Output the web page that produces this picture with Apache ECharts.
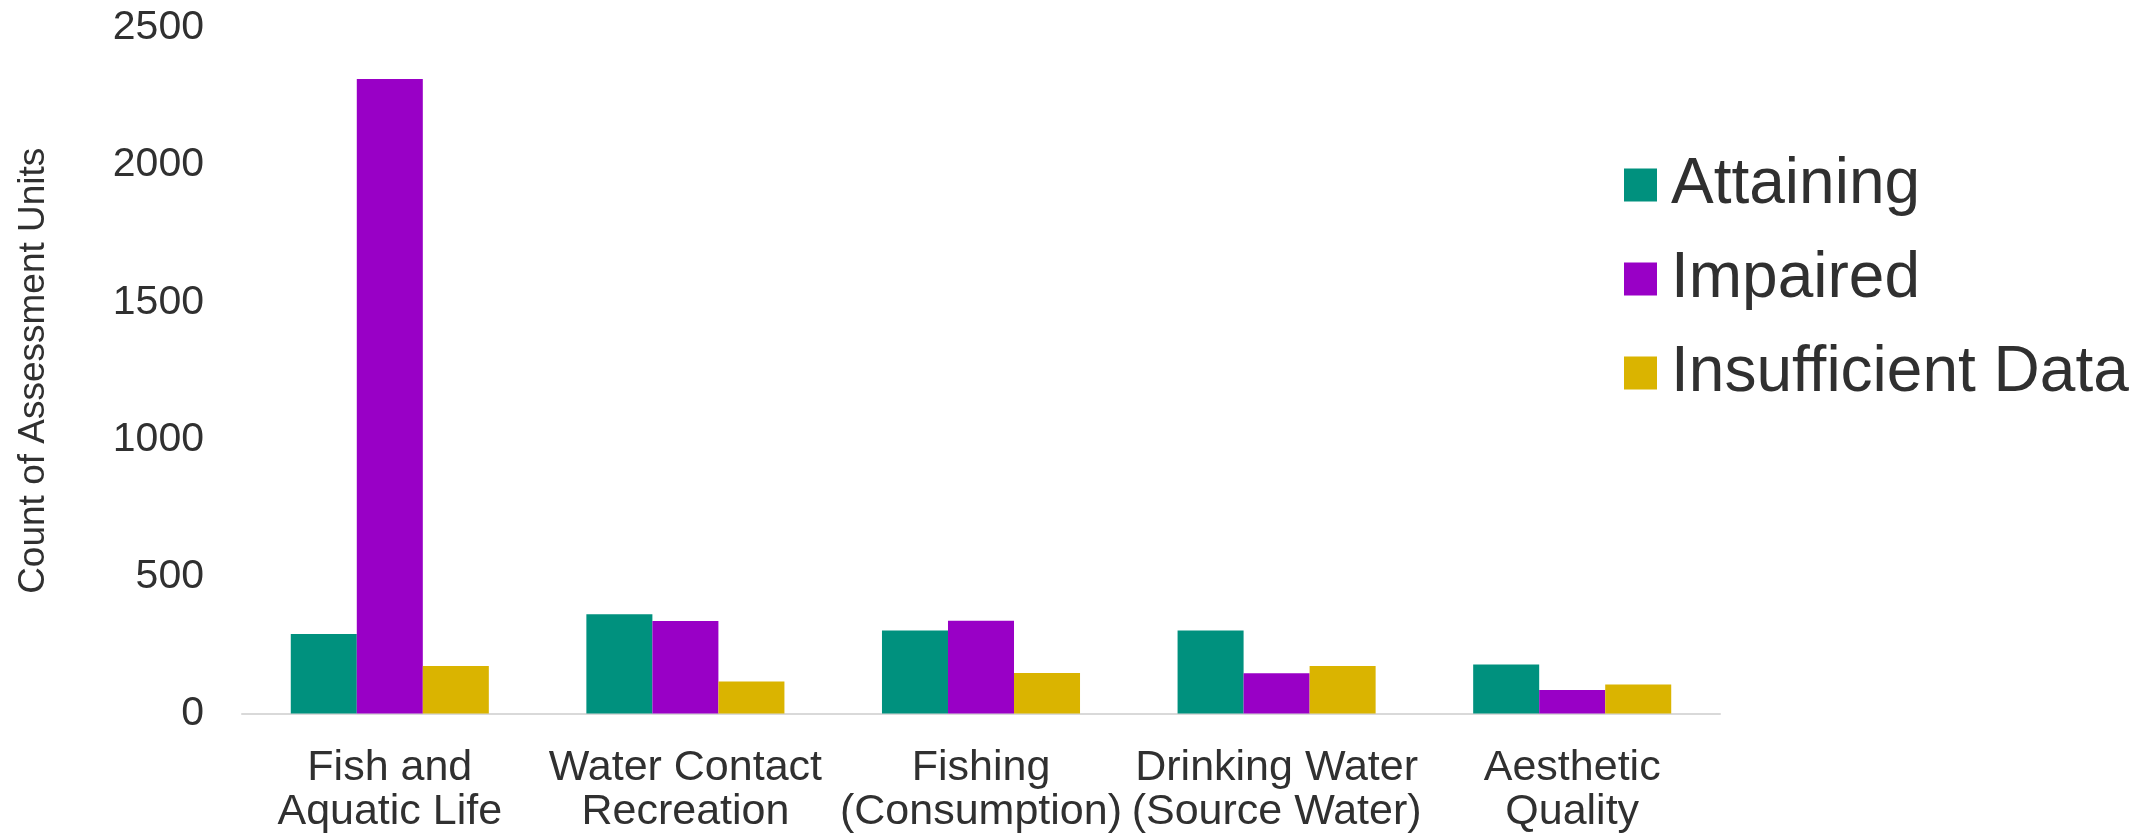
<!DOCTYPE html>
<html>
<head>
<meta charset="utf-8">
<title>Assessment Units by Use</title>
<script src="https://cdn.jsdelivr.net/npm/echarts@6/dist/echarts.min.js"></script>
<style>
  html, body { margin: 0; padding: 0; background: #ffffff; }
  #chart { width: 2156px; height: 835px; }
</style>
</head>
<body>
<div id="chart"></div>
<script>
// Beneficial use categories (x axis)
const categories = [
  'Fish and\nAquatic Life',
  'Water Contact\nRecreation',
  'Fishing\n(Consumption)',
  'Drinking Water\n(Source Water)',
  'Aesthetic\nQuality'
];

// Count of assessment units per category
const attaining = [290, 362, 303, 303, 179];
const impaired = [2314, 337, 338, 147, 86];
const insufficientData = [173, 117, 148, 173, 106];

const seriesNames = ['Attaining', 'Impaired', 'Insufficient Data'];
const seriesColors = ['#00917E', '#9900C6', '#DAB400'];

// Y axis range
const yMin = 0;
const yMax = 2500;
const yStep = 500;

const fontFamily = '"Liberation Sans", Arial, sans-serif';
const textColor = '#303030';

const chart = echarts.init(document.getElementById('chart'), null, { renderer: 'canvas' });

const makeBar = (name, data, color) => ({
  name: name,
  type: 'bar',
  data: data,
  barGap: '0%',
  barCategoryGap: '33%',
  itemStyle: { color: color },
  emphasis: { disabled: true }
});

chart.setOption({
  animation: false,
  backgroundColor: '#ffffff',
  textStyle: { fontFamily: fontFamily, color: textColor },
  grid: {
    left: 242,
    right: 436,
    top: 28,
    bottom: 121.5,
    containLabel: false
  },
  legend: {
    orient: 'vertical',
    left: 1619,
    top: 148,
    itemWidth: 33,
    itemHeight: 33,
    itemGap: 30,
    icon: 'rect',
    selectedMode: false,
    data: seriesNames,
    textStyle: {
      fontFamily: fontFamily,
      fontSize: 64,
      lineHeight: 63,
      color: textColor,
      padding: [0, 0, 0, 9]
    }
  },
  xAxis: {
    type: 'category',
    data: categories,
    axisLine: { show: true, lineStyle: { color: '#d9d9d9', width: 2 } },
    axisTick: { show: false },
    axisLabel: {
      interval: 0,
      margin: 33,
      fontSize: 43,
      lineHeight: 44,
      color: textColor,
      fontFamily: fontFamily
    },
    splitLine: { show: false }
  },
  yAxis: {
    type: 'value',
    min: yMin,
    max: yMax,
    interval: yStep,
    name: 'Count of Assessment Units',
    nameLocation: 'middle',
    nameGap: 190,
    nameTextStyle: {
      fontSize: 37,
      color: textColor,
      fontFamily: fontFamily
    },
    axisLine: { show: false },
    axisTick: { show: false },
    splitLine: { show: false },
    axisLabel: {
      margin: 38,
      fontSize: 41,
      color: textColor,
      fontFamily: fontFamily,
      formatter: (v) => String(v)
    }
  },
  series: [
    makeBar(seriesNames[0], attaining, seriesColors[0]),
    makeBar(seriesNames[1], impaired, seriesColors[1]),
    makeBar(seriesNames[2], insufficientData, seriesColors[2])
  ]
});
</script>
</body>
</html>
